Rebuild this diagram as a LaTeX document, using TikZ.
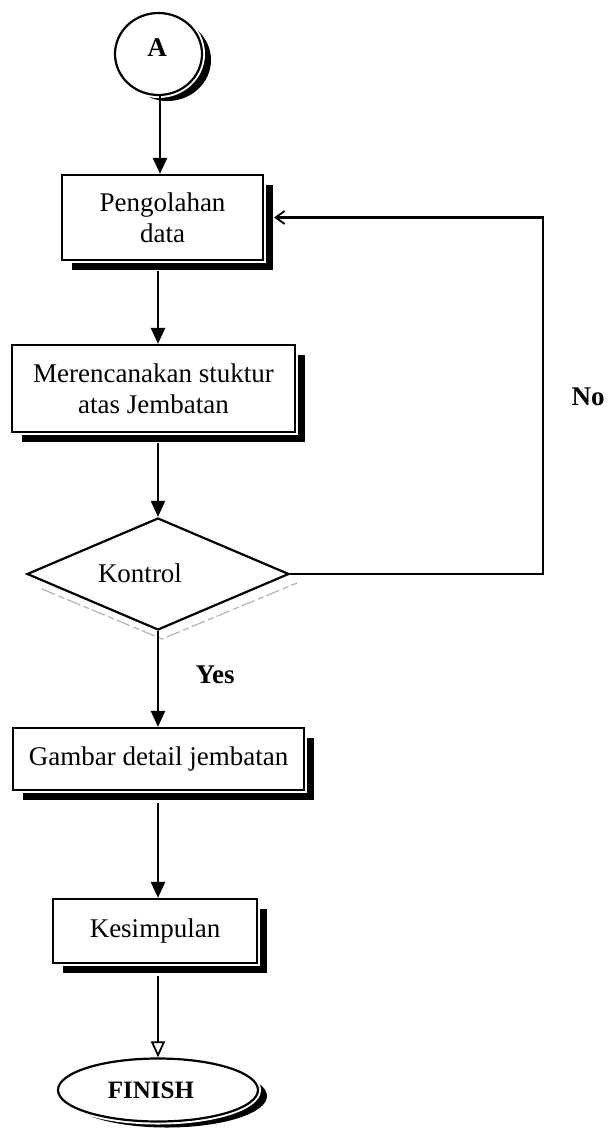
\documentclass[tikz,border=0pt]{standalone}
\usepackage{fontspec}
\setmainfont{Liberation Serif}
\usetikzlibrary{shapes.geometric,arrows.meta,calc,shadows}
\begin{document}
\begin{tikzpicture}[x=1pt,y=-1pt,
  txt/.style={font=\fontsize{27}{31}\selectfont},
  shadowed/.style={drop shadow={shadow xshift=10pt,shadow yshift=-10pt,opacity=1,fill=black},
                   preaction={draw=white,line width=6.5pt}},
  procbox/.style={rectangle,draw=black,fill=white,line width=2.2pt,align=center,inner sep=0pt,txt,shadowed},
  termshape/.style={ellipse,draw=black,fill=white,line width=2.2pt,inner sep=0pt,
                   drop shadow={shadow xshift=9pt,shadow yshift=-6pt,opacity=1,fill=black},
                   preaction={draw=white,line width=6pt}},
  decshape/.style={diamond,draw=black,fill=white,line width=2.2pt,inner sep=0pt},
  arr/.style={line width=2.4pt,-{Triangle[length=16pt,width=14pt]}},
  arropen/.style={line width=2.4pt,-{Triangle[open,length=16pt,width=14pt,line width=1.8pt]}},
  fb/.style={line width=2.2pt,-{Straight Barb[length=9pt,width=13pt,line width=1.8pt]}},
  lbl/.style={font=\bfseries\fontsize{27}{31}\selectfont}
]
\useasboundingbox (0,0) rectangle (609,1131);
\fill[white] (0,0) rectangle (609,1131);

% nodes
\node[termshape,minimum width=87pt,minimum height=82pt] (A) at (158.5,54) {};
\node[lbl] (Atxt) at (157,48) {A};
\node[procbox,minimum width=201pt,minimum height=85pt] (p1) at (162.5,217.5) {Pengolahan\\data};
\node[procbox,minimum width=283pt,minimum height=87pt] (p2) at (153.5,388.5) {Merencanakan stuktur\\atas Jembatan};
% diamond shadow (faint)
\draw[gray!60,line width=1.2pt,dash pattern=on 14pt off 4pt on 6pt off 3pt]
  (42,589) -- (162,639) -- (297,583);
\node[decshape,minimum width=262pt,minimum height=112pt,aspect=2.34] (k) at (158,574) {};
\node[txt] (ktxt) at (140,573) {Kontrol};
\node[procbox,minimum width=291pt,minimum height=62pt] (p3) at (158.5,759) {Gambar detail jembatan};
\node[procbox,minimum width=204pt,minimum height=64pt] (p4) at (155,931) {Kesimpulan};
\node[termshape,minimum width=200pt,minimum height=63pt] (fin) at (158,1090) {};
\node[font=\bfseries\fontsize{25}{30}\selectfont] (fintxt) at (151,1090) {FINISH};

\coordinate (c1) at (160,0);
\coordinate (c2) at (158,0);
\coordinate (cr) at (543,0);

% connectors
\draw[arr] (A.south -| c1) -- (p1.north -| c1);
\draw[arr] ([yshift=-10pt]p1.south -| c2) -- (p2.north -| c2);
\draw[arr] ([yshift=-10pt]p2.south -| c2) -- (k.north);
\draw[arr] (k.south) -- (p3.north -| c2);
\draw[arr] ([yshift=-12pt]p3.south -| c2) -- (p4.north -| c2);
\draw[arropen] ([yshift=-12pt]p4.south -| c2) -- (fin.north -| c2);
\draw[fb] (k.east) -- (k.east -| cr) -- (p1.east -| cr) -- ([xshift=10pt]p1.east);

% labels
\node[lbl] (yes) at (215,675) {Yes};
\node[lbl] (no) at (588,397) {No};
\end{tikzpicture}
\end{document}
